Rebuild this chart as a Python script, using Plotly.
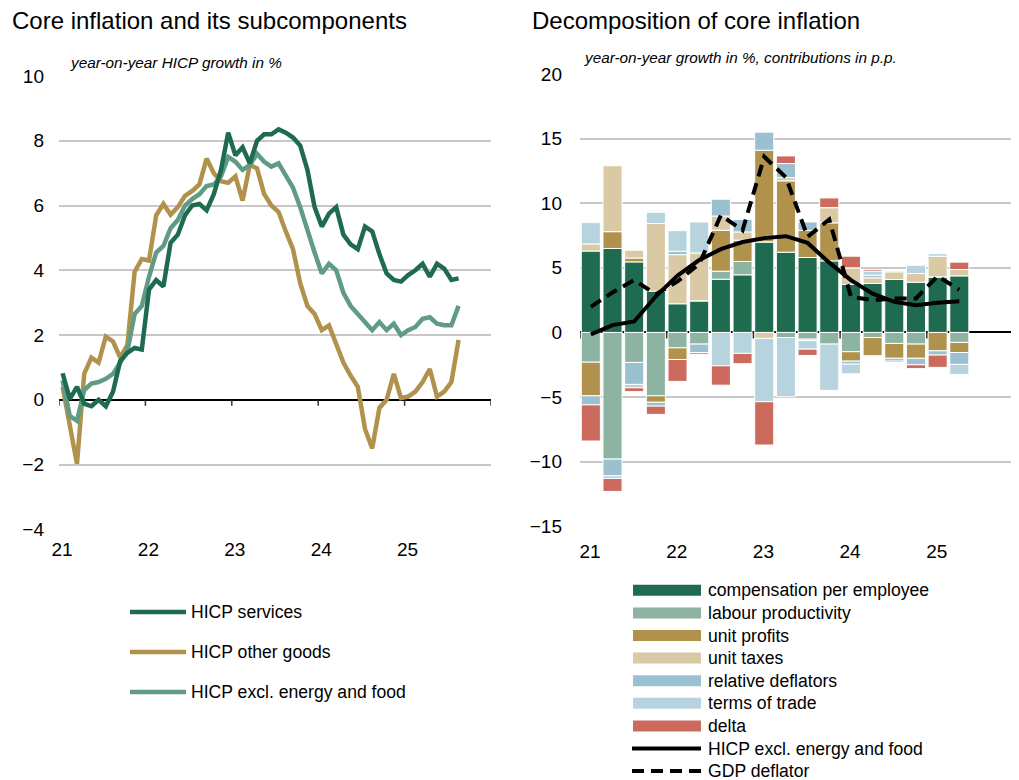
import pandas as pd
import plotly.graph_objects as go

# the page adds an 8px body margin, so the figure is 8px smaller and
# every pixel position below is given in window pixels minus that offset
OFF = 8
W, H = 1019 - OFF, 780 - OFF
FONT = "Liberation Sans, Arial, sans-serif"

# ---- data -------------------------------------------------------------
months = pd.period_range("2021-01", "2025-08", freq="M")
quarters = pd.period_range("2021Q1", "2025Q2", freq="Q")
years = [2021, 2022, 2023, 2024, 2025]
year_labels = ["21", "22", "23", "24", "25"]

hicp_services = [0.82, 0.03, 0.4, -0.12, -0.2, 0.0, -0.2, 0.25, 1.2, 1.45, 1.6, 1.55,
                 3.4, 3.7, 3.5, 4.85, 5.1, 5.7, 6.0, 6.05, 5.85, 6.35, 7.1, 8.25,
                 7.55, 7.8, 7.3, 8.0, 8.2, 8.2, 8.35, 8.25, 8.1, 7.85, 7.1, 5.95,
                 5.35, 5.75, 5.95, 5.1, 4.8, 4.65, 5.35, 5.2, 4.5, 3.9, 3.7, 3.65,
                 3.85, 4.0, 4.2, 3.8, 4.2, 4.05, 3.7, 3.75]
hicp_other_goods = [0.4, -0.85, -1.98, 0.8, 1.3, 1.15, 1.95, 1.8, 1.3, 1.7, 3.95, 4.35,
                    4.3, 5.7, 6.05, 5.72, 5.95, 6.3, 6.45, 6.65, 7.45, 7.0, 6.75, 6.7,
                    6.9, 6.15, 7.25, 7.15, 6.35, 6.0, 5.8, 5.2, 4.65, 3.6, 2.9, 2.65,
                    2.15, 2.3, 1.7, 1.15, 0.75, 0.4, -0.9, -1.5, -0.25, 0.0, 0.8, 0.05,
                    0.1, 0.25, 0.55, 0.95, 0.1, 0.25, 0.55, 1.85]
hicp_core = [0.6, -0.5, -0.65, 0.3, 0.5, 0.55, 0.65, 0.8, 1.15, 1.5, 2.65, 2.9,
             3.8, 4.55, 4.75, 5.3, 5.55, 6.0, 6.2, 6.35, 6.6, 6.65, 6.9, 7.5,
             7.35, 7.1, 7.25, 7.6, 7.35, 7.2, 7.3, 6.9, 6.55, 5.95, 5.2, 4.55,
             3.9, 4.2, 4.0, 3.3, 2.9, 2.65, 2.45, 2.15, 2.4, 2.15, 2.35, 2.0,
             2.15, 2.25, 2.5, 2.55, 2.35, 2.3, 2.3, 2.9]

comp_per_employee = [6.3, 6.5, 5.46, 3.2, 2.22, 2.45, 4.12, 4.46, 7.01, 6.21, 5.8, 5.54,
                     3.71, 3.79, 4.1, 3.89, 4.3, 4.38]
labour_productivity = [-2.3, -9.8, -2.32, -4.9, -1.19, -0.9, 0.62, 1.03, 0.0, -0.39, -0.52, -0.9,
                       -1.49, -0.39, -0.85, -0.9, 0.0, -0.77]
unit_profits = [-2.6, 1.3, 0.3, -0.5, -0.9, 0.0, 3.17, 1.65, 7.09, 5.52, 2.1, 2.94,
                -0.73, -1.41, -1.15, -1.1, -1.42, -0.78]
unit_taxes = [0.55, 5.1, 0.6, 5.23, 3.8, 3.7, 1.1, 0.64, -0.46, 0.25, -0.12, 1.18,
              1.29, 0.44, 0.59, 0.67, 1.6, 0.49]
relative_deflators = [-0.7, -1.3, -1.7, -0.3, 0.26, -0.65, 1.3, 0.96, 1.4, 1.09, 0.65, 0.0,
                      -0.23, 0.2, -0.22, -0.5, -0.33, -0.92]
terms_of_trade = [1.65, -0.2, -0.26, 0.87, 1.6, 2.4, -2.58, -1.62, -4.9, -4.58, -0.65, -3.58,
                  -0.75, 0.3, 0.08, 0.64, 0.2, -0.78]
delta = [-2.8, -1.0, -0.3, -0.64, -1.7, -0.13, -1.5, -0.8, -3.35, 0.59, -0.49, 0.75,
         0.9, 0.12, -0.1, -0.3, -0.95, 0.57]
core_q = [-0.15, 0.57, 0.85, 2.8, 4.4, 5.6, 6.45, 7.0, 7.3, 7.45, 6.93, 5.4,
          4.05, 3.0, 2.37, 2.1, 2.3, 2.42]
gdp_deflator = [1.98, 3.1, 4.05, 2.95, 3.95, 5.3, 9.07, 7.9, 13.6, 12.0, 7.4, 8.75,
                2.76, 2.5, 2.63, 2.63, 4.36, 3.3]

# colours
C_DARK = "#1f6b50"
C_PROD = "#8db4a3"
C_GOLD = "#b0924d"
C_TAX = "#d9c9a5"
C_REL = "#9bc0cf"
C_TOT = "#b7d4de"
C_DELTA = "#cc6a5e"
C_CORE = "#5f9b85"
GRID = "#c8c8c8"

mx = [p.year + (p.month - 0.5) / 12 for p in months]
qx = [p.year + (p.quarter - 0.5) / 4 for p in quarters]

fig = go.Figure()

# ---- left panel --------------------------------------------------------
left_lines = [
    ("HICP other goods", hicp_other_goods, C_GOLD),
    ("HICP excl. energy and food", hicp_core, C_CORE),
    ("HICP services", hicp_services, C_DARK),
]
for name, vals, col in left_lines:
    fig.add_trace(go.Scatter(x=mx, y=vals, name=name, mode="lines",
                             line=dict(color=col, width=4.5),
                             xaxis="x", yaxis="y", showlegend=False))

# ---- right panel -------------------------------------------------------
bars = [
    ("compensation per employee", comp_per_employee, C_DARK),
    ("labour productivity", labour_productivity, C_PROD),
    ("unit profits", unit_profits, C_GOLD),
    ("unit taxes", unit_taxes, C_TAX),
    ("relative deflators", relative_deflators, C_REL),
    ("terms of trade", terms_of_trade, C_TOT),
    ("delta", delta, C_DELTA),
]
for name, vals, col in bars:
    fig.add_trace(go.Bar(x=qx, y=vals, name=name, marker=dict(color=col, line=dict(color="white", width=1)),
                         xaxis="x2", yaxis="y2", showlegend=False))
fig.add_trace(go.Scatter(x=qx, y=core_q, mode="lines", line=dict(color="black", width=4),
                         xaxis="x2", yaxis="y2", showlegend=False))
fig.add_trace(go.Scatter(x=qx, y=gdp_deflator, mode="lines",
                         line=dict(color="black", width=4, dash="12px,7px"),
                         xaxis="x2", yaxis="y2", showlegend=False))


def px_x(p):
    return (p - OFF) / W


def px_y(p):
    return 1 - (p - OFF) / H


def xaxis_style(shift, standoff):
    return dict(showgrid=False, zeroline=False, showline=False, ticks="", automargin=False,
                tickfont=dict(family=FONT, size=19, color="black"),
                ticklabelshift=shift, ticklabelstandoff=standoff)


def yaxis_style(standoff):
    return dict(showgrid=True, gridcolor=GRID, gridwidth=1.5, zeroline=True, automargin=False,
                zerolinecolor="black", zerolinewidth=1.5, showline=False, ticks="",
                tickfont=dict(family=FONT, size=19, color="black"), ticklabelstandoff=standoff)


fig.update_layout(
    width=W, height=H,
    margin=dict(l=0, r=0, t=0, b=0),
    paper_bgcolor="white", plot_bgcolor="white",
    barmode="relative", bargap=0.12,
    font=dict(family=FONT, size=18, color="black"),
    xaxis=dict(domain=[px_x(59), px_x(491)], range=[2021, 2026], tickvals=years,
               ticktext=year_labels, anchor="y", **xaxis_style(3, 7)),
    yaxis=dict(domain=[px_y(529.3), px_y(76)], range=[-4, 10], dtick=2, anchor="x",
               **yaxis_style(14)),
    xaxis2=dict(domain=[px_x(580), px_x(1013.5)], range=[2021, 2026], tickvals=years,
                ticktext=year_labels, anchor="y2", **xaxis_style(10, 12)),
    yaxis2=dict(domain=[px_y(526.3), px_y(74)], range=[-15, 20], dtick=5, anchor="x2",
                **yaxis_style(17)),
)

shapes = []
# year tick marks below the zero line
for yr in years + [2026]:
    shapes.append(dict(type="line", xref="x", yref="y", x0=yr, x1=yr, ysizemode="pixel",
                       yanchor=0, y0=0, y1=-6, line=dict(color="#333333", width=1.5)))
for yr in years:
    shapes.append(dict(type="line", xref="x2", yref="y2", x0=yr, x1=yr, ysizemode="pixel",
                       yanchor=0, y0=0, y1=-6, line=dict(color="#333333", width=1.5)))

annotations = [
    dict(text="Core inflation and its subcomponents", x=px_x(10), y=px_y(20),
         font=dict(family=FONT, size=24)),
    dict(text="Decomposition of core inflation", x=px_x(530), y=px_y(20),
         font=dict(family=FONT, size=24)),
    dict(text="<i>year-on-year HICP growth in %</i>", x=px_x(68), y=px_y(62),
         font=dict(family=FONT, size=15.3)),
    dict(text="<i>year-on-year growth in %, contributions in p.p.</i>", x=px_x(582), y=px_y(57),
         font=dict(family=FONT, size=15.3)),
]

# left legend
left_leg = [("HICP services", C_DARK), ("HICP other goods", C_GOLD),
            ("HICP excl. energy and food", C_CORE)]
for i, (name, col) in enumerate(left_leg):
    yy = 612 + 40 * i
    shapes.append(dict(type="line", xref="paper", yref="paper", x0=px_x(130), x1=px_x(186),
                       y0=px_y(yy), y1=px_y(yy), line=dict(color=col, width=4.5)))
    annotations.append(dict(text=name, x=px_x(189), y=px_y(yy), font=dict(family=FONT, size=17.6)))

# right legend
right_leg = [(n, c, "bar") for n, _, c in bars] + [
    ("HICP excl. energy and food", "black", "solid"), ("GDP deflator", "black", "dash")]
for i, (name, col, kind) in enumerate(right_leg):
    yy = 590.3 + 22.6 * i
    if kind == "bar":
        shapes.append(dict(type="rect", xref="paper", yref="paper", x0=px_x(633), x1=px_x(701),
                           y0=px_y(yy + 5.5), y1=px_y(yy - 5.5), line=dict(width=0), fillcolor=col))
    else:
        shapes.append(dict(type="line", xref="paper", yref="paper", x0=px_x(632), x1=px_x(701),
                           y0=px_y(yy), y1=px_y(yy),
                           line=dict(color=col, width=4, dash="solid" if kind == "solid" else "12px,7px")))
    annotations.append(dict(text=name, x=px_x(706), y=px_y(yy), font=dict(family=FONT, size=17.6)))

for a in annotations:
    a.update(xref="paper", yref="paper", xanchor="left", yanchor="middle", showarrow=False)

fig.update_layout(shapes=shapes, annotations=annotations)
fig.write_html("out.html")
